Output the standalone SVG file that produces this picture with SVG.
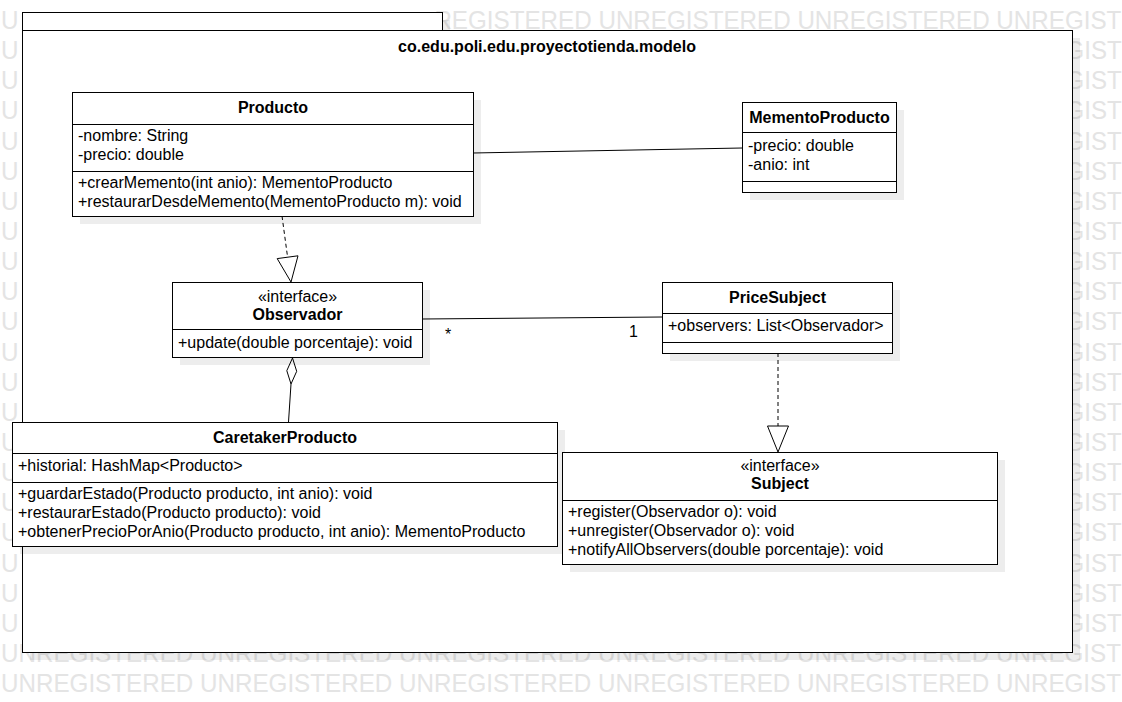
<svg xmlns="http://www.w3.org/2000/svg" width="1122" height="702" viewBox="0 0 1122 702">
<style>
.wm{font-family:"Liberation Sans",Arial,sans-serif;font-size:26px;fill:#e4e4e4}
.box{fill:#fff;stroke:#000;stroke-width:1}
.sh{fill:#000;fill-opacity:0.07}
.t{font-family:"Liberation Sans",Arial,sans-serif;font-size:16px;fill:#000}
.b{font-weight:bold}
.c{text-anchor:middle}
.ln{stroke:#000;stroke-width:1;fill:none}
.ds{stroke:#000;stroke-width:1;fill:none;stroke-dasharray:4 3}
.hd{fill:#fff;stroke:#000;stroke-width:1}
</style>
<rect width="1122" height="702" fill="#fff"/>
<g id="watermark">
<text class="wm" x="1" y="29" textLength="17.5" lengthAdjust="spacingAndGlyphs">U</text>
<text class="wm" x="434.4" y="29" textLength="687" lengthAdjust="spacingAndGlyphs">REGISTERED UNREGISTERED UNREGISTERED UNREGIST</text>
<text class="wm" x="1" y="59" textLength="17.5" lengthAdjust="spacingAndGlyphs">U</text>
<text class="wm" x="1" y="89" textLength="17.5" lengthAdjust="spacingAndGlyphs">U</text>
<text class="wm" x="1" y="119" textLength="17.5" lengthAdjust="spacingAndGlyphs">U</text>
<text class="wm" x="1" y="150" textLength="17.5" lengthAdjust="spacingAndGlyphs">U</text>
<text class="wm" x="1" y="180" textLength="17.5" lengthAdjust="spacingAndGlyphs">U</text>
<text class="wm" x="1" y="210" textLength="17.5" lengthAdjust="spacingAndGlyphs">U</text>
<text class="wm" x="1" y="240" textLength="17.5" lengthAdjust="spacingAndGlyphs">U</text>
<text class="wm" x="1" y="270" textLength="17.5" lengthAdjust="spacingAndGlyphs">U</text>
<text class="wm" x="1" y="300" textLength="17.5" lengthAdjust="spacingAndGlyphs">U</text>
<text class="wm" x="1" y="330" textLength="17.5" lengthAdjust="spacingAndGlyphs">U</text>
<text class="wm" x="1" y="361" textLength="17.5" lengthAdjust="spacingAndGlyphs">U</text>
<text class="wm" x="1" y="391" textLength="17.5" lengthAdjust="spacingAndGlyphs">U</text>
<text class="wm" x="1" y="421" textLength="17.5" lengthAdjust="spacingAndGlyphs">U</text>
<text class="wm" x="1" y="451" textLength="17.5" lengthAdjust="spacingAndGlyphs">U</text>
<text class="wm" x="1" y="481" textLength="17.5" lengthAdjust="spacingAndGlyphs">U</text>
<text class="wm" x="1" y="511" textLength="17.5" lengthAdjust="spacingAndGlyphs">U</text>
<text class="wm" x="1" y="541" textLength="17.5" lengthAdjust="spacingAndGlyphs">U</text>
<text class="wm" x="1" y="572" textLength="17.5" lengthAdjust="spacingAndGlyphs">U</text>
<text class="wm" x="1" y="602" textLength="17.5" lengthAdjust="spacingAndGlyphs">U</text>
<text class="wm" x="1" y="632" textLength="17.5" lengthAdjust="spacingAndGlyphs">U</text>
<text class="wm" x="1065.6" y="59" textLength="56" lengthAdjust="spacingAndGlyphs">GIST</text>
<text class="wm" x="1065.6" y="89" textLength="56" lengthAdjust="spacingAndGlyphs">GIST</text>
<text class="wm" x="1065.6" y="119" textLength="56" lengthAdjust="spacingAndGlyphs">GIST</text>
<text class="wm" x="1065.6" y="150" textLength="56" lengthAdjust="spacingAndGlyphs">GIST</text>
<text class="wm" x="1065.6" y="180" textLength="56" lengthAdjust="spacingAndGlyphs">GIST</text>
<text class="wm" x="1065.6" y="210" textLength="56" lengthAdjust="spacingAndGlyphs">GIST</text>
<text class="wm" x="1065.6" y="240" textLength="56" lengthAdjust="spacingAndGlyphs">GIST</text>
<text class="wm" x="1065.6" y="270" textLength="56" lengthAdjust="spacingAndGlyphs">GIST</text>
<text class="wm" x="1065.6" y="300" textLength="56" lengthAdjust="spacingAndGlyphs">GIST</text>
<text class="wm" x="1065.6" y="330" textLength="56" lengthAdjust="spacingAndGlyphs">GIST</text>
<text class="wm" x="1065.6" y="361" textLength="56" lengthAdjust="spacingAndGlyphs">GIST</text>
<text class="wm" x="1065.6" y="391" textLength="56" lengthAdjust="spacingAndGlyphs">GIST</text>
<text class="wm" x="1065.6" y="421" textLength="56" lengthAdjust="spacingAndGlyphs">GIST</text>
<text class="wm" x="1065.6" y="451" textLength="56" lengthAdjust="spacingAndGlyphs">GIST</text>
<text class="wm" x="1065.6" y="481" textLength="56" lengthAdjust="spacingAndGlyphs">GIST</text>
<text class="wm" x="1065.6" y="511" textLength="56" lengthAdjust="spacingAndGlyphs">GIST</text>
<text class="wm" x="1065.6" y="541" textLength="56" lengthAdjust="spacingAndGlyphs">GIST</text>
<text class="wm" x="1065.6" y="572" textLength="56" lengthAdjust="spacingAndGlyphs">GIST</text>
<text class="wm" x="1065.6" y="602" textLength="56" lengthAdjust="spacingAndGlyphs">GIST</text>
<text class="wm" x="1065.6" y="632" textLength="56" lengthAdjust="spacingAndGlyphs">GIST</text>
<text class="wm" x="1" y="662" textLength="1120" lengthAdjust="spacingAndGlyphs">UNREGISTERED UNREGISTERED UNREGISTERED UNREGISTERED UNREGISTERED UNREGIST</text>
<text class="wm" x="1" y="692" textLength="1120" lengthAdjust="spacingAndGlyphs">UNREGISTERED UNREGISTERED UNREGISTERED UNREGISTERED UNREGISTERED UNREGIST</text>
</g>
<g id="package">
<rect class="sh" x="30" y="20" width="420" height="18"/>
<rect class="sh" x="30" y="38" width="1050" height="622"/>
<rect class="box" x="22.5" y="12.5" width="420" height="18"/>
<rect class="box" x="22.5" y="30.5" width="1050" height="622"/>
<text class="t b c" x="547" y="51.5">co.edu.poli.edu.proyectotienda.modelo</text>
</g>
<g id="connectors">
<line class="ln" x1="473" y1="153" x2="742" y2="148"/>
<line class="ds" x1="282" y1="216" x2="287.6" y2="257.2"/>
<polygon class="hd" points="291,282 298,255.8 277.2,258.6"/>
<line class="ln" x1="422" y1="319" x2="662" y2="317"/>
<text class="t" x="445" y="340">*</text>
<text class="t" x="629" y="337">1</text>
<polygon class="hd" points="292.5,358 296.7,371.3 291,384 286.8,370.7"/>
<line class="ln" x1="291" y1="384" x2="288.5" y2="422"/>
<line class="ds" x1="778" y1="353" x2="778" y2="426"/>
<polygon class="hd" points="778,452 788.5,426 767.5,426"/>
</g>
<g id="producto">
<rect class="sh" x="80" y="100" width="401" height="124"/>
<rect class="box" x="72.5" y="92.5" width="401" height="124"/>
<line class="ln" x1="72.5" y1="124.5" x2="473.5" y2="124.5"/>
<line class="ln" x1="72.5" y1="171.5" x2="473.5" y2="171.5"/>
<text class="t b c" x="273" y="113">Producto</text>
<text class="t" x="78" y="141">-nombre: String</text>
<text class="t" x="78" y="160">-precio: double</text>
<text class="t" x="78" y="188">+crearMemento(int anio): MementoProducto</text>
<text class="t" x="78" y="207">+restaurarDesdeMemento(MementoProducto m): void</text>
</g>
<g id="mementoproducto">
<rect class="sh" x="750" y="110" width="154" height="90"/>
<rect class="box" x="742.5" y="102.5" width="154" height="90"/>
<line class="ln" x1="742.5" y1="132.5" x2="896.5" y2="132.5"/>
<line class="ln" x1="742.5" y1="181.5" x2="896.5" y2="181.5"/>
<text class="t b c" x="819.5" y="122.5">MementoProducto</text>
<text class="t" x="748" y="151">-precio: double</text>
<text class="t" x="748" y="170">-anio: int</text>
</g>
<g id="observador">
<rect class="sh" x="180" y="290" width="250" height="75"/>
<rect class="box" x="172.5" y="282.5" width="250" height="75"/>
<line class="ln" x1="172.5" y1="329.5" x2="422.5" y2="329.5"/>
<text class="t c" x="297.5" y="302">«interface»</text>
<text class="t b c" x="297.5" y="320">Observador</text>
<text class="t" x="178" y="348">+update(double porcentaje): void</text>
</g>
<g id="pricesubject">
<rect class="sh" x="670" y="290" width="230" height="71"/>
<rect class="box" x="662.5" y="282.5" width="230" height="71"/>
<line class="ln" x1="662.5" y1="313.5" x2="892.5" y2="313.5"/>
<line class="ln" x1="662.5" y1="342.5" x2="892.5" y2="342.5"/>
<text class="t b c" x="777.5" y="303">PriceSubject</text>
<text class="t" x="668" y="331">+observers: List&lt;Observador&gt;</text>
</g>
<g id="caretakerproducto">
<rect class="sh" x="20" y="430" width="545" height="124"/>
<rect class="box" x="12.5" y="422.5" width="545" height="124"/>
<line class="ln" x1="12.5" y1="453.5" x2="557.5" y2="453.5"/>
<line class="ln" x1="12.5" y1="482.5" x2="557.5" y2="482.5"/>
<text class="t b c" x="285" y="443">CaretakerProducto</text>
<text class="t" x="18" y="471">+historial: HashMap&lt;Producto&gt;</text>
<text class="t" x="18" y="499">+guardarEstado(Producto producto, int anio): void</text>
<text class="t" x="18" y="518">+restaurarEstado(Producto producto): void</text>
<text class="t" x="18" y="537">+obtenerPrecioPorAnio(Producto producto, int anio): MementoProducto</text>
</g>
<g id="subject">
<rect class="sh" x="570" y="460" width="435" height="112"/>
<rect class="box" x="562.5" y="452.5" width="435" height="112"/>
<line class="ln" x1="562.5" y1="500.5" x2="997.5" y2="500.5"/>
<text class="t c" x="780" y="471">«interface»</text>
<text class="t b c" x="780" y="489">Subject</text>
<text class="t" x="568" y="517">+register(Observador o): void</text>
<text class="t" x="568" y="536">+unregister(Observador o): void</text>
<text class="t" x="568" y="555">+notifyAllObservers(double porcentaje): void</text>
</g>
</svg>
